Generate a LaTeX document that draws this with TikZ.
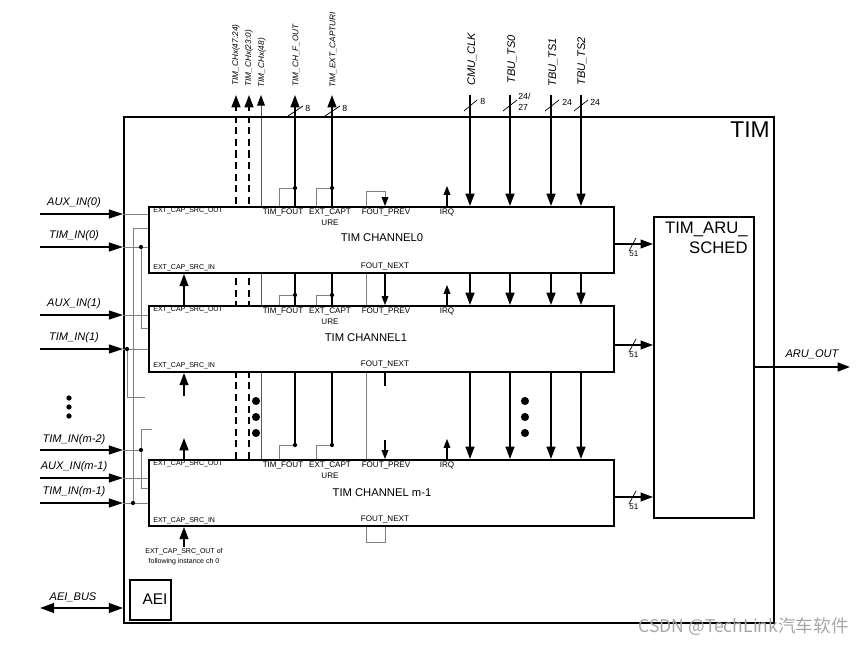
\documentclass[tikz,border=0pt]{standalone}
\usepackage{fontspec}
\setmainfont{Liberation Sans}
\newfontfamily\cjkfont{Noto Sans CJK SC}
\usetikzlibrary{arrows.meta,backgrounds}

\tikzset{
  sig/.style={line width=1.1pt,-{Triangle[length=7pt,width=5pt]}},
  tsig/.style={line width=0.6pt,-{Triangle[length=5pt,width=3.8pt]}},
  wire/.style={gray,line width=0.5pt},
  blk/.style={draw,line width=1.1pt,fill=white,anchor=north west,inner sep=0pt},
  chan/.style={blk,minimum width=9.3cm,minimum height=1.32cm},
  ext/.style={font=\itshape\fontsize{6.3}{7.5}\selectfont,inner sep=0pt},
  vlbl/.style={ext,rotate=90,anchor=west},
  svlbl/.style={vlbl,font=\itshape\fontsize{4.7}{5.5}\selectfont},
  port/.style={font=\fontsize{4.6}{5.7}\selectfont,inner sep=0pt},
  srcport/.style={font=\fontsize{4}{6}\selectfont,inner sep=0pt},
  buswd/.style={font=\fontsize{5}{6}\selectfont,inner sep=0pt,anchor=west},
  title/.style={font=\fontsize{6.4}{7.5}\selectfont,inner sep=0pt},
  dot/.style={circle,fill,inner sep=0pt,minimum size=2.4pt},
  bigdot/.style={circle,fill,inner sep=0pt,minimum size=4.6pt},
}

\begin{document}
\begin{tikzpicture}[x=0.02cm,y=-0.02cm]
\useasboundingbox (0,0) rectangle (863,645);

% Blocks
\node[blk,fill=none,minimum width=13cm,minimum height=10.12cm] (tim) at (123,116) {};
\node[anchor=north east,inner sep=0pt,font=\fontsize{13}{15}\selectfont] (timlbl) at (770,121) {TIM};
\node[chan] (ch0) at (148,206) {};
\node[chan] (ch1) at (148,305) {};
\node[chan] (chm) at (148,459) {};
\node[blk,minimum width=2cm,minimum height=6.02cm] (aru) at (653,216) {};
\node[anchor=north east,inner sep=0pt,align=right,font=\fontsize{9.5}{11.3}\selectfont] (arulbl) at (748,222) {TIM\_ARU\_\\SCHED};
\node[blk,minimum width=0.82cm,minimum height=0.8cm] (aei) at (129,579) {};
\node[font=\fontsize{8.8}{10}\selectfont,inner sep=0pt] (aeilbl) at (155,599) {AEI};

\node[title] (t0) at (382,238) {TIM CHANNEL0};
\node[title] (t1) at (366,338) {TIM CHANNEL1};
\node[title] (tm) at (382,493) {TIM CHANNEL m-1};

% x positions of the vertical signals
\coordinate (top) at (0,95);
\coordinate (xsrc) at (184,0);
\coordinate (xd1) at (236,0);
\coordinate (xd2) at (249,0);
\coordinate (xg) at (261,0);
\coordinate (xfp) at (385,0);
\coordinate (xfl) at (366,0);
\coordinate (xirq) at (447,0);
\coordinate (xclk) at (470,0);
\coordinate (xts0) at (510,0);
\coordinate (xts1) at (551,0);
\coordinate (xts2) at (581,0);

% Ports of each channel
\foreach \c/\t/\b in {ch0/206/272,ch1/305/370,chm/459/525} {
  \node[srcport,anchor=west] (\c-so) at (153,\t+4.5) {EXT\_CAP\_SRC\_OUT};
  \node[srcport,anchor=west] (\c-si) at (153,\b-4) {EXT\_CAP\_SRC\_IN};
  \node[port] (\c-fo) at (283,\t+6) {TIM\_FOUT};
  \node[port,align=center,anchor=north] (\c-ec) at (330,\t+3) {EXT\_CAPT\\URE};
  \node[port] (\c-fp) at (386,\t+6) {FOUT\_PREV};
  \node[port] (\c-irq) at (447,\t+6) {IRQ};
  \node[port] (\c-fn) at (385,\b-6) {FOUT\_NEXT};
  \draw[tsig] (\c.north -| xirq) -- ++(0,-20);
}

% Outputs at the top
\node[dot] (fo0) at (295,188) {};
\node[dot] (fo1) at (295,295) {};
\node[dot] (fom) at (295,445) {};
\node[dot] (ec0) at (332,188) {};
\node[dot] (ec1) at (332,295) {};
\node[dot] (ecm) at (332,445) {};
\begin{scope}[on background layer]
  \draw[sig,dash pattern=on 4pt off 2.6pt] (chm.north -| xd1) -- (xd1 |- top);
  \draw[sig,dash pattern=on 4pt off 2.6pt] (chm.north -| xd2) -- (xd2 |- top);
  \draw[line width=0.5pt,gray!70!black,-{Triangle[length=6pt,width=4.4pt,black]}] (chm.north -| xg) -- (xg |- top);
  \draw[sig] (fom.center) -- (fom |- top);
  \draw[sig] (ecm.center) -- (ecm |- top);
  % FOUT loop back to channel 0
  \draw[wire,-{Triangle[length=5pt,width=3.8pt,black]}] (chm.south -| xfp) -- ++(0,16) -| (xfl |- 0,191) -| (ch0.north -| xfp);
\end{scope}
\foreach \c/\n in {ch0/0,ch1/1,chm/m} {
  \draw[wire] (fo\n) -| (\c.north -| 279,0);
  \draw[wire] (ec\n) -| (\c.north -| 316,0);
}
\node[svlbl] (lch1) at (236,86) {TIM\_CHx(47:24)};
\node[svlbl] (lch2) at (249,87) {TIM\_CHx(23:0)};
\node[svlbl] (lch3) at (262,88) {TIM\_CHx(48)};
\node[svlbl] (lfo) at (296,87) {TIM\_CH\_F\_OUT};
\node[svlbl] (lec) at (333,88) {TIM\_EXT\_CAPTURI};
\draw (288,116) -- (303,106);
\node[buswd] (wfo) at (305,108) {8};
\draw (325,116) -- (340,106);
\node[buswd] (wec) at (342,108) {8};

% Inputs from the top
\foreach \x in {xclk,xts0,xts1,xts2} {
  \draw[sig] (\x |- top) -- (ch0.north -| \x);
  \draw[sig] (ch0.south -| \x) -- (ch1.north -| \x);
  \draw[sig] (ch1.south -| \x) -- (chm.north -| \x);
}
\node[vlbl] (lclk) at (472,86) {CMU\_CLK};
\node[vlbl] (lts0) at (512,84) {TBU\_TS0};
\node[vlbl] (lts1) at (553,87) {TBU\_TS1};
\node[vlbl] (lts2) at (582,86) {TBU\_TS2};
\draw (464,111) -- (477,100);
\node[buswd] (wclk) at (480,101) {8};
\draw (503,111) -- (517,100);
\node[buswd,align=left,anchor=north west] (wts0) at (518,93) {24/\\27};
\draw (545,111) -- (559,100);
\node[buswd] (wts1) at (562,102) {24};
\draw (574,111) -- (588,100);
\node[buswd] (wts2) at (590,102) {24};

% FOUT_NEXT to FOUT_PREV
\draw[tsig] (ch0.south -| xfp) -- (ch1.north -| xfp);
\coordinate (fn1) at (385,386);
\draw[line width=0.6pt] (ch1.south -| xfp) -- (fn1);
\coordinate (fpm) at (385,440);
\draw[tsig] (fpm) -- (chm.north -| xfp);

% EXT_CAP_SRC chain
\draw[sig] (ch1.north -| xsrc) -- (ch0.south -| xsrc);
\coordinate (s1) at (184,396);
\draw[sig] (s1) -- (ch1.south -| xsrc);
\coordinate (s2) at (184,438);
\draw[sig] (chm.north -| xsrc) -- (s2);
\coordinate (s3) at (184,547);
\draw[sig] (s3) -- (chm.south -| xsrc);
\node[srcport,align=center,anchor=north] (srcnote) at (184,548) {EXT\_CAP\_SRC\_OUT of\\following instance ch 0};

% Channels skipped
\foreach \y in {401,417,433} {
  \node[bigdot] (l\y) at (256,\y) {};
  \node[bigdot] (r\y) at (525,\y) {};
}

% Channel outputs to the scheduler
\foreach \c/\y in {ch0/244,ch1/345,chm/497} {
  \draw[sig,line width=0.7pt] (\c.east |- 0,\y) -- (aru.west |- 0,\y);
  \draw (629,\y+7) -- (636,\y-6);
  \node[buswd,font=\fontsize{4.6}{5}\selectfont] (w\c) at (629,\y+10) {51};
}
\coordinate (aruout) at (850,367);
\draw[sig] (aru.east |- aruout) -- (aruout);
\node[ext] (laru) at (812,354) {ARU\_OUT};

% Inputs on the left
\foreach \n/\y/\t in {a0/214/AUX\_IN(0),t0/247/TIM\_IN(0),a1/315/AUX\_IN(1),t1/349/TIM\_IN(1),tm2/450/TIM\_IN(m-2),am1/478/AUX\_IN(m-1),tm1/503/TIM\_IN(m-1)} {
  \coordinate (i\n) at (40,\y);
  \draw[sig,-{Triangle[length=8pt,width=5pt]}] (i\n) -- (tim.west |- i\n);
  \node[ext,anchor=base] (l\n) at (74,\y-8) {\t};
}
\draw[wire] (tim.west |- ia0) -- (ch0.west |- ia0);
\draw[wire] (tim.west |- it0) -- (ch0.west |- it0);
\draw[wire] (tim.west |- ia1) -- (ch1.west |- ia1);
\draw[wire] (tim.west |- it1) -- (ch1.west |- it1);
\draw[wire] (tim.west |- iam1) -- (chm.west |- iam1);
\draw[wire] (tim.west |- itm1) -- (chm.west |- itm1);
\foreach \y in {398,407,416} \node[dot,minimum size=3pt] (v\y) at (69,\y) {};

% Routing of TIM_IN to the neighbour channels
\node[dot] (d0) at (141,247) {};
\draw[wire] (d0) |- (ch1.west |- 0,328);
\node[dot] (d1) at (127,349) {};
\coordinate (n1) at (145,397);
\draw[wire] (d1) |- (n1);
\node[dot] (dm2) at (141,450) {};
\draw[wire] (tim.west |- itm2) -- (dm2);
\coordinate (p2) at (152,429);
\draw[wire] (p2) -| (dm2) |- (chm.west |- 0,488);
\node[dot] (dm1) at (133,503) {};
\draw[wire] (dm1) |- (ch0.west |- 0,228);

% Bus interface
\coordinate (aeib) at (40,608);
\draw[line width=1.1pt,{Triangle[length=8pt,width=5.5pt]}-{Triangle[length=8pt,width=5.5pt]}] (aeib) -- (tim.west |- aeib);
\node[ext] (laei) at (73,597) {AEI\_BUS};

\node[anchor=east,inner sep=0pt,text=gray!70,font=\cjkfont\fontsize{10}{12}\selectfont] (wm) at (849,627) {CSDN @TechLink汽车软件};
\end{tikzpicture}
\end{document}
